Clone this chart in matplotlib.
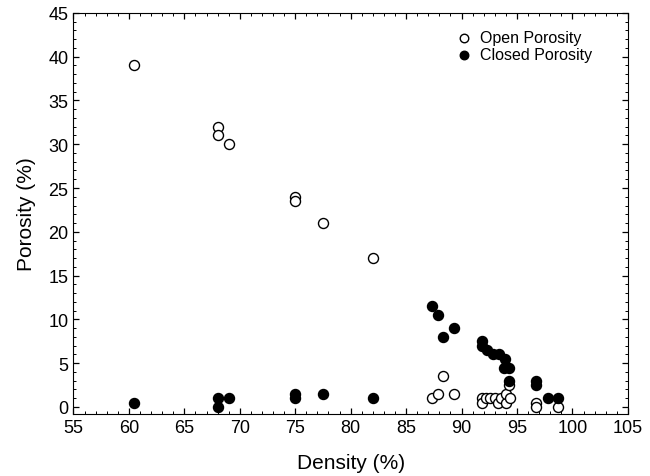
import numpy as np
import matplotlib.pyplot as plt
from matplotlib.ticker import MultipleLocator

plt.rcParams['font.family'] = ['Liberation Sans', 'DejaVu Sans']

# Open porosity vs density
open_density = [60.5, 68.0, 68.0, 69.0, 75.0, 75.0, 77.5, 82.0,
                87.3, 87.9, 88.3, 89.3,
                91.8, 91.8, 92.2, 92.6, 93.0, 93.3, 93.6, 94.0, 94.0, 94.4, 94.3,
                96.7, 96.7, 98.7]
open_porosity = [39.0, 32.0, 31.0, 30.0, 24.0, 23.5, 21.0, 17.0,
                 1.0, 1.5, 3.5, 1.5,
                 1.0, 0.5, 1.0, 1.0, 1.0, 0.4, 1.0, 0.4, 1.5, 1.0, 2.5,
                 0.5, 0.0, 0.0]

# Closed porosity vs density
closed_density = [60.5, 68.0, 68.0, 69.0, 75.0, 75.0, 77.5, 82.0,
                  87.3, 87.9, 88.3, 89.3,
                  91.8, 91.8, 92.3, 92.8, 93.4, 93.9, 93.8, 94.3, 94.3,
                  96.7, 96.7, 97.8, 98.7]
closed_porosity = [0.5, 1.0, 0.0, 1.0, 1.5, 1.0, 1.5, 1.0,
                   11.5, 10.5, 8.0, 9.0,
                   7.5, 7.0, 6.5, 6.0, 6.0, 5.5, 4.5, 4.5, 3.0,
                   3.0, 2.5, 1.0, 1.0]

fig = plt.figure(figsize=(6.5, 4.77), dpi=100)
ax = fig.add_axes([0.113, 0.130, 0.853, 0.841])

ax.scatter(open_density, open_porosity, s=52, facecolors='white',
           edgecolors='black', linewidths=1.0, label='Open Porosity', zorder=3)
ax.scatter(closed_density, closed_porosity, s=52, facecolors='black',
           edgecolors='black', linewidths=1.0, label='Closed Porosity', zorder=3)

ax.set_xlim(55, 105)
ax.set_ylim(-0.8, 45)
ax.xaxis.set_major_locator(MultipleLocator(5))
ax.xaxis.set_minor_locator(MultipleLocator(1))
ax.yaxis.set_major_locator(MultipleLocator(5))
ax.yaxis.set_minor_locator(MultipleLocator(1))
ax.tick_params(which='both', direction='in', top=True, right=True, labelsize=13)
ax.tick_params(which='major', length=4, width=0.9)
ax.tick_params(which='minor', length=2, width=0.7)

ax.set_xlabel('Density (%)', fontsize=15, labelpad=12)
ax.set_ylabel('Porosity (%)', fontsize=15, labelpad=9)

ax.legend(loc='upper right', bbox_to_anchor=(0.955, 0.985), frameon=False,
          fontsize=11.5, handlelength=0.8, handletextpad=0.6,
          labelspacing=0.15, borderaxespad=0.3, markerscale=0.85)

plt.savefig('out.png', dpi=100)
